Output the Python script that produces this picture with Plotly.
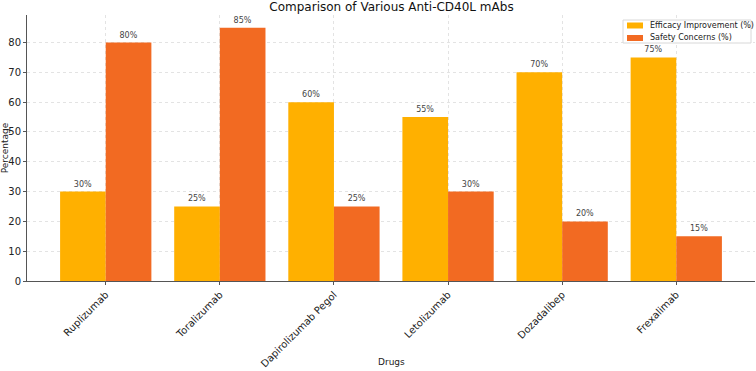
import plotly.graph_objects as go

drugs = ["Ruplizumab", "Toralizumab", "Dapirolizumab Pegol", "Letolizumab", "Dozadalibep", "Frexalimab"]
efficacy = [30, 25, 60, 55, 70, 75]
safety = [80, 85, 25, 30, 20, 15]
yticks = [0, 10, 20, 30, 40, 50, 60, 70, 80]
series_names = ["Efficacy Improvement (%)", "Safety Concerns (%)"]
colors = ["#FFB000", "#F26A22"]

x = list(range(len(drugs)))
fig = go.Figure()
for vals, name, col in zip([efficacy, safety], series_names, colors):
    fig.add_trace(go.Bar(x=x, y=vals, name=name, marker_color=col, showlegend=False,
                         marker_line_width=0, text=[f"{v}%" for v in vals], textposition="outside",
                         textfont=dict(size=8, color="#444"), cliponaxis=False))

W, H = 756, 371
L, R = 27, 755
top, bottom = 15, 281


def px(xp):
    return (xp - L) / (R - L)


def py(yp):
    return (bottom - yp) / (bottom - top)


shapes = [dict(type="rect", xref="paper", yref="paper", x0=px(623), x1=px(751), y0=py(43), y1=py(20),
               line=dict(color="#d8d8d8", width=1), fillcolor="rgba(255,255,255,0.9)", layer="above")]
annotations = []
for i, (name, col) in enumerate(zip(series_names, colors)):
    cy = 25.5 + i * 12.5
    shapes.append(dict(type="rect", xref="paper", yref="paper", x0=px(627), x1=px(643),
                       y0=py(cy + 3), y1=py(cy - 3), line=dict(width=0), fillcolor=col, layer="above"))
    annotations.append(dict(text=name, xref="paper", yref="paper", x=px(648), y=py(cy),
                            xanchor="left", yanchor="middle", showarrow=False,
                            font=dict(size=8, color="#222")))
annotations.append(dict(text="Drugs", x=0.5, xref="paper", y=py(362), yref="paper",
                        xanchor="center", yanchor="middle",
                        showarrow=False, font=dict(size=9, color="#222")))

fig.update_layout(
    width=W, height=H,
    margin=dict(l=L, r=W - R, t=top, b=H - bottom, autoexpand=False),
    barmode="group", bargap=0.2, bargroupgap=0,
    plot_bgcolor="white", paper_bgcolor="white",
    font=dict(family="DejaVu Sans", size=9, color="#222"),
    title=dict(text="Comparison of Various Anti-CD40L mAbs", x=(391.5) / W, xanchor="center",
               y=1 - 7 / H, yanchor="middle", font=dict(size=12, color="#111")),
    showlegend=False,
    shapes=shapes,
    annotations=annotations,
)
fig.update_xaxes(range=[-0.69, 5.69], tickvals=x, ticktext=drugs, tickangle=-45, automargin=False,
                 showline=True, linecolor="#555", linewidth=1, ticks="outside", ticklen=3, tickcolor="#555",
                 showgrid=True, gridcolor="#e3e3e3", griddash="dot", tickfont=dict(size=10))
fig.update_yaxes(range=[0, 89.25], tickvals=yticks, showline=True, linecolor="#555", linewidth=1,
                 ticks="outside", ticklen=3, tickcolor="#555", automargin=False,
                 showgrid=True, gridcolor="#e3e3e3", griddash="dot", zeroline=False,
                 title=dict(text="Percentage", font=dict(size=9), standoff=3), tickfont=dict(size=10))
fig.write_html("out.html", config={"displayModeBar": False},
               post_script="document.body.style.margin='0';document.body.style.padding='0';")
